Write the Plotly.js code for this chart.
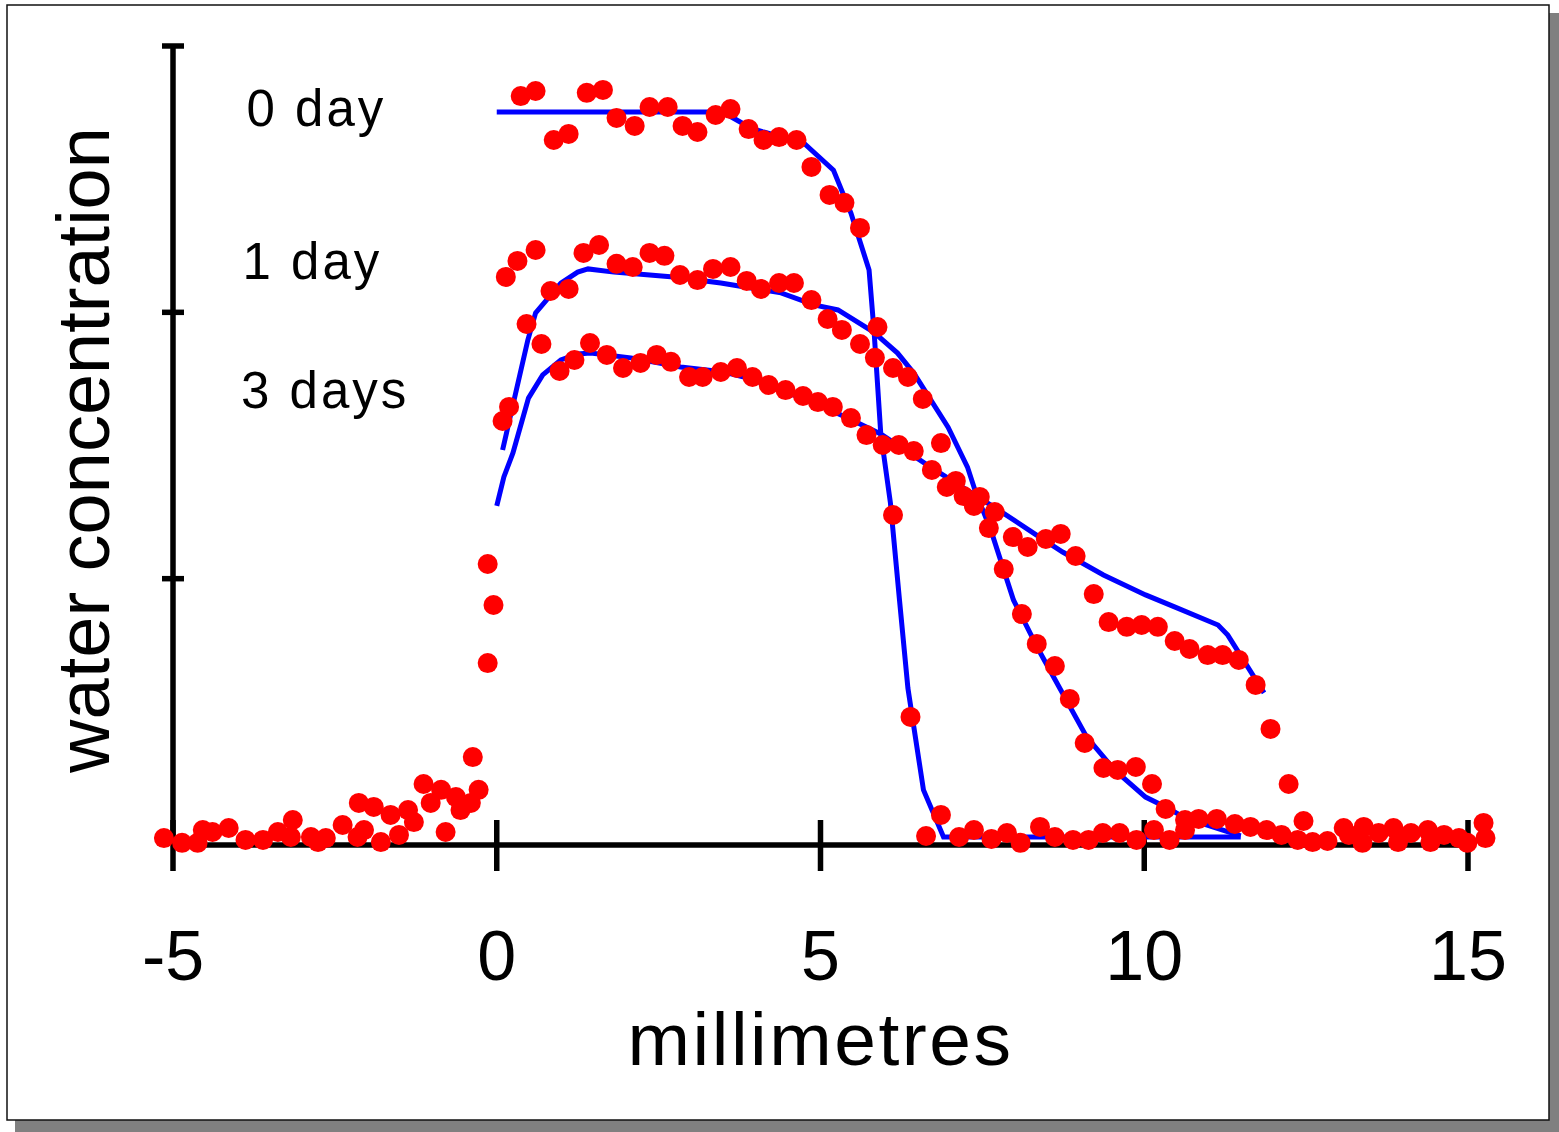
<!DOCTYPE html>
<html><head><meta charset="utf-8">
<script src="https://cdn.plot.ly/plotly-3.0.1.min.js"></script>
<style>
html,body{margin:0;padding:0;background:#fff}
#chart{width:1559px;height:1132px}
#chart .annotation-text{letter-spacing:3px}
#chart .xtitle{letter-spacing:2.5px}
</style>
</head><body><div id="chart"></div>
<script>
// ---- tick labels / texts ----
const xTickVals = [-5, 0, 5, 10, 15];
const xTickText = ['-5', '0', '5', '10', '15'];
const yTickVals = [1, 2, 3];
const xTitle = 'millimetres';
const yTitle = 'water concentration';
const profileLabels = ['0 day', '1 day', '3 days'];
const labelX = [-2.78, -2.85, -2.66];
const labelY = [2.767, 2.189, 1.708];

// ---- measured points (red dots) ----
const day0X = [-0.14, -0.05, -0.14, 0.37, 0.60, 0.88, 1.11, 1.39, 1.64, 1.85, 2.13, 2.36, 2.64, 2.87, 3.10, 3.38, 3.61, 3.89, 4.12, 4.36, 4.63, 4.86, 5.14, 5.37, 5.61, 5.88, 6.12, 6.39, 6.63, 6.86];
const day0Y = [1.055, 0.901, 0.683, 2.812, 2.831, 2.647, 2.670, 2.824, 2.835, 2.730, 2.700, 2.771, 2.771, 2.700, 2.677, 2.741, 2.763, 2.688, 2.647, 2.658, 2.647, 2.546, 2.441, 2.411, 2.317, 1.945, 1.239, 0.481, 0.034, 0.113];

const day1X = [0.14, 0.32, 0.60, 0.46, 0.69, 0.83, 1.11, 1.34, 1.58, 1.85, 2.10, 2.36, 2.59, 2.83, 3.10, 3.34, 3.61, 3.86, 4.08, 4.36, 4.59, 4.86, 5.11, 5.33, 5.61, 5.84, 6.12, 6.35, 6.58, 6.86, 7.09, 7.37, 7.60, 7.83, 8.11, 8.34, 8.62, 8.85, 9.08, 9.37, 9.59, 9.87, 10.12, 10.33];
const day1Y = [2.133, 2.193, 2.234, 1.956, 1.881, 2.080, 2.088, 2.223, 2.253, 2.182, 2.170, 2.223, 2.212, 2.140, 2.121, 2.163, 2.170, 2.118, 2.088, 2.110, 2.110, 2.046, 1.975, 1.934, 1.881, 1.829, 1.791, 1.757, 1.675, 1.509, 1.367, 1.273, 1.190, 1.036, 0.867, 0.755, 0.672, 0.548, 0.383, 0.289, 0.282, 0.293, 0.229, 0.135];

const day3X = [0.09, 0.19, 0.97, 1.20, 1.44, 1.70, 1.95, 2.22, 2.47, 2.69, 2.97, 3.18, 3.46, 3.71, 3.95, 4.20, 4.46, 4.73, 4.96, 5.19, 5.47, 5.71, 5.96, 6.21, 6.44, 6.72, 6.95, 7.21, 7.46, 7.69, 7.97, 8.20, 8.48, 8.71, 8.94, 9.22, 9.45, 9.73, 9.96, 10.21, 10.47, 10.70, 10.98, 11.21, 11.46, 11.72, 11.95, 12.23, 12.46];
const day3Y = [1.592, 1.645, 1.780, 1.821, 1.885, 1.840, 1.791, 1.810, 1.840, 1.814, 1.757, 1.757, 1.776, 1.791, 1.757, 1.727, 1.708, 1.686, 1.663, 1.645, 1.603, 1.539, 1.502, 1.502, 1.479, 1.408, 1.344, 1.310, 1.307, 1.250, 1.156, 1.119, 1.149, 1.168, 1.085, 0.942, 0.837, 0.819, 0.826, 0.819, 0.766, 0.736, 0.713, 0.713, 0.695, 0.601, 0.436, 0.229, 0.090];

const baseLeftX = [-5.14, -4.86, -4.62, -4.54, -4.39, -4.14, -3.88, -3.61, -3.38, -3.15, -3.18, -2.87, -2.76, -2.64, -2.38, -2.15, -2.13, -1.90, -2.05, -1.79, -1.64, -1.51, -1.37, -1.28, -1.13, -1.02, -0.86, -0.79, -0.63, -0.56, -0.40, -0.37, -0.28];
const baseLeftY = [0.026, 0.008, 0.008, 0.056, 0.049, 0.064, 0.019, 0.019, 0.049, 0.094, 0.030, 0.030, 0.011, 0.026, 0.075, 0.030, 0.158, 0.143, 0.056, 0.011, 0.113, 0.038, 0.131, 0.086, 0.229, 0.158, 0.207, 0.049, 0.180, 0.131, 0.158, 0.330, 0.207];

const baseRightX = [7.14, 7.37, 7.64, 7.88, 8.09, 8.39, 8.62, 8.90, 9.14, 9.36, 9.62, 9.88, 10.15, 10.39, 10.63, 10.63, 10.84, 11.12, 11.40, 11.64, 11.89, 12.12, 12.37, 12.60, 12.83, 13.08, 13.16, 13.39, 13.37, 13.62, 13.85, 13.92, 14.12, 14.38, 14.42, 14.63, 14.86, 14.99, 15.24, 15.27];
const baseRightY = [0.030, 0.056, 0.023, 0.045, 0.008, 0.068, 0.030, 0.019, 0.019, 0.045, 0.045, 0.019, 0.056, 0.019, 0.094, 0.056, 0.098, 0.098, 0.079, 0.068, 0.056, 0.038, 0.019, 0.011, 0.015, 0.064, 0.038, 0.068, 0.008, 0.045, 0.064, 0.011, 0.045, 0.056, 0.011, 0.038, 0.026, 0.008, 0.083, 0.026];

// ---- model curves (blue lines) ----
const fit0X = [0, 3.35, 3.57, 3.92, 4.12, 4.74, 5.20, 5.47, 5.75, 5.83, 5.93, 6.08, 6.22, 6.35, 6.59, 6.90, 11.49];
const fit0Y = [2.752, 2.752, 2.741, 2.692, 2.677, 2.636, 2.534, 2.373, 2.159, 1.919, 1.547, 1.284, 0.920, 0.589, 0.207, 0.030, 0.030];

const fit1X = [0.09, 0.26, 0.48, 0.60, 0.76, 0.99, 1.25, 1.41, 1.81, 2.73, 3.46, 3.88, 4.39, 4.90, 5.27, 5.82, 6.19, 6.44, 6.97, 7.27, 7.40, 7.63, 7.98, 8.37, 8.63, 9.11, 9.54, 10.02, 10.33, 10.64, 11.49];
const fit1Y = [1.483, 1.671, 1.896, 1.998, 2.046, 2.110, 2.151, 2.163, 2.151, 2.133, 2.110, 2.095, 2.073, 2.028, 2.009, 1.926, 1.847, 1.772, 1.569, 1.419, 1.322, 1.183, 0.920, 0.732, 0.620, 0.406, 0.282, 0.180, 0.143, 0.101, 0.034];

const fit3X = [0, 0.11, 0.25, 0.37, 0.49, 0.71, 0.99, 1.25, 1.45, 2.07, 2.84, 3.51, 3.88, 4.39, 4.90, 5.42, 5.93, 6.70, 7.27, 7.68, 8.29, 8.74, 9.37, 10.02, 10.44, 11.14, 11.29, 11.51, 11.85];
const fit3Y = [1.273, 1.382, 1.472, 1.569, 1.678, 1.765, 1.821, 1.844, 1.847, 1.829, 1.795, 1.776, 1.753, 1.708, 1.660, 1.603, 1.543, 1.419, 1.333, 1.269, 1.171, 1.100, 1.014, 0.939, 0.897, 0.826, 0.788, 0.706, 0.571];

// ---- figure ----
const W = 1559, H = 1132;
const M = {l: 140, r: 58, t: 20, b: 252};
const FONT = 'Liberation Sans, Arial, sans-serif';
const px = v => (v - M.l) / (W - M.l - M.r);
const py = v => ((H - M.b) - v) / (H - M.t - M.b);

const lineStyle = {color: '#0000ff', width: 5};
const dotStyle = {color: '#ff0000', size: 20, line: {width: 0}};
const axisLine = {color: '#000', width: 5.5};

const traces = [];
[[fit0X, fit0Y], [fit1X, fit1Y], [fit3X, fit3Y]].forEach(([x, y]) => {
  traces.push({x, y, type: 'scatter', mode: 'lines', line: lineStyle, hoverinfo: 'skip', cliponaxis: false});
});
[[baseLeftX, baseLeftY], [day0X, day0Y], [day1X, day1Y], [day3X, day3Y], [baseRightX, baseRightY]].forEach(([x, y]) => {
  traces.push({x, y, type: 'scatter', mode: 'markers', marker: dotStyle, hoverinfo: 'skip', cliponaxis: false});
});

const shapes = [
  {type: 'rect', xref: 'paper', yref: 'paper', x0: px(15), x1: px(1562), y0: py(13), y1: py(1135), fillcolor: '#808080', line: {width: 0}, layer: 'below'},
  {type: 'rect', xref: 'paper', yref: 'paper', x0: px(7), x1: px(1549), y0: py(5), y1: py(1120), fillcolor: '#ffffff', line: {color: '#111', width: 1.5}, layer: 'below'},
  {type: 'line', xref: 'x', yref: 'y', x0: xTickVals[0], x1: xTickVals[xTickVals.length - 1], y0: 0, y1: 0, line: axisLine, layer: 'below'},
  {type: 'line', xref: 'x', yref: 'y', x0: xTickVals[0], x1: xTickVals[0], y0: 0, y1: yTickVals[yTickVals.length - 1], line: axisLine, layer: 'below'}
];
xTickVals.forEach(v => shapes.push({type: 'line', xref: 'x', yref: 'y', ysizemode: 'pixel', yanchor: 0, x0: v, x1: v, y0: -26, y1: 25, line: axisLine, layer: 'below'}));
yTickVals.forEach(v => shapes.push({type: 'line', xref: 'x', yref: 'y', xsizemode: 'pixel', xanchor: xTickVals[0], x0: -11, x1: 11, y0: v, y1: v, line: axisLine, layer: 'below'}));

const annotations = profileLabels.map((t, i) => ({
  text: t, x: labelX[i], y: labelY[i], xref: 'x', yref: 'y', xanchor: 'center', yanchor: 'middle',
  showarrow: false, font: {family: FONT, size: 51, color: '#000'}
}));

const layout = {
  width: W, height: H, margin: M,
  paper_bgcolor: '#ffffff', plot_bgcolor: 'rgba(0,0,0,0)',
  showlegend: false,
  xaxis: {
    range: [-5.5097, 15.5097], tickvals: xTickVals, ticktext: xTickText, ticks: '',
    showline: false, showgrid: false, zeroline: false, automargin: false,
    tickfont: {family: FONT, size: 70, color: '#000'}, ticklabelstandoff: 29,
    title: {text: xTitle, font: {family: FONT, size: 75, color: '#000'}, standoff: 18}
  },
  yaxis: {
    range: [-0.1314, 3.0976], tickvals: yTickVals, showticklabels: false, ticks: '',
    showline: false, showgrid: false, zeroline: false, automargin: false,
    title: {text: yTitle, font: {family: FONT, size: 74, color: '#000'}, standoff: 5}
  },
  shapes, annotations
};

Plotly.newPlot('chart', traces, layout, {staticPlot: true, displayModeBar: false});
</script>
</body></html>
